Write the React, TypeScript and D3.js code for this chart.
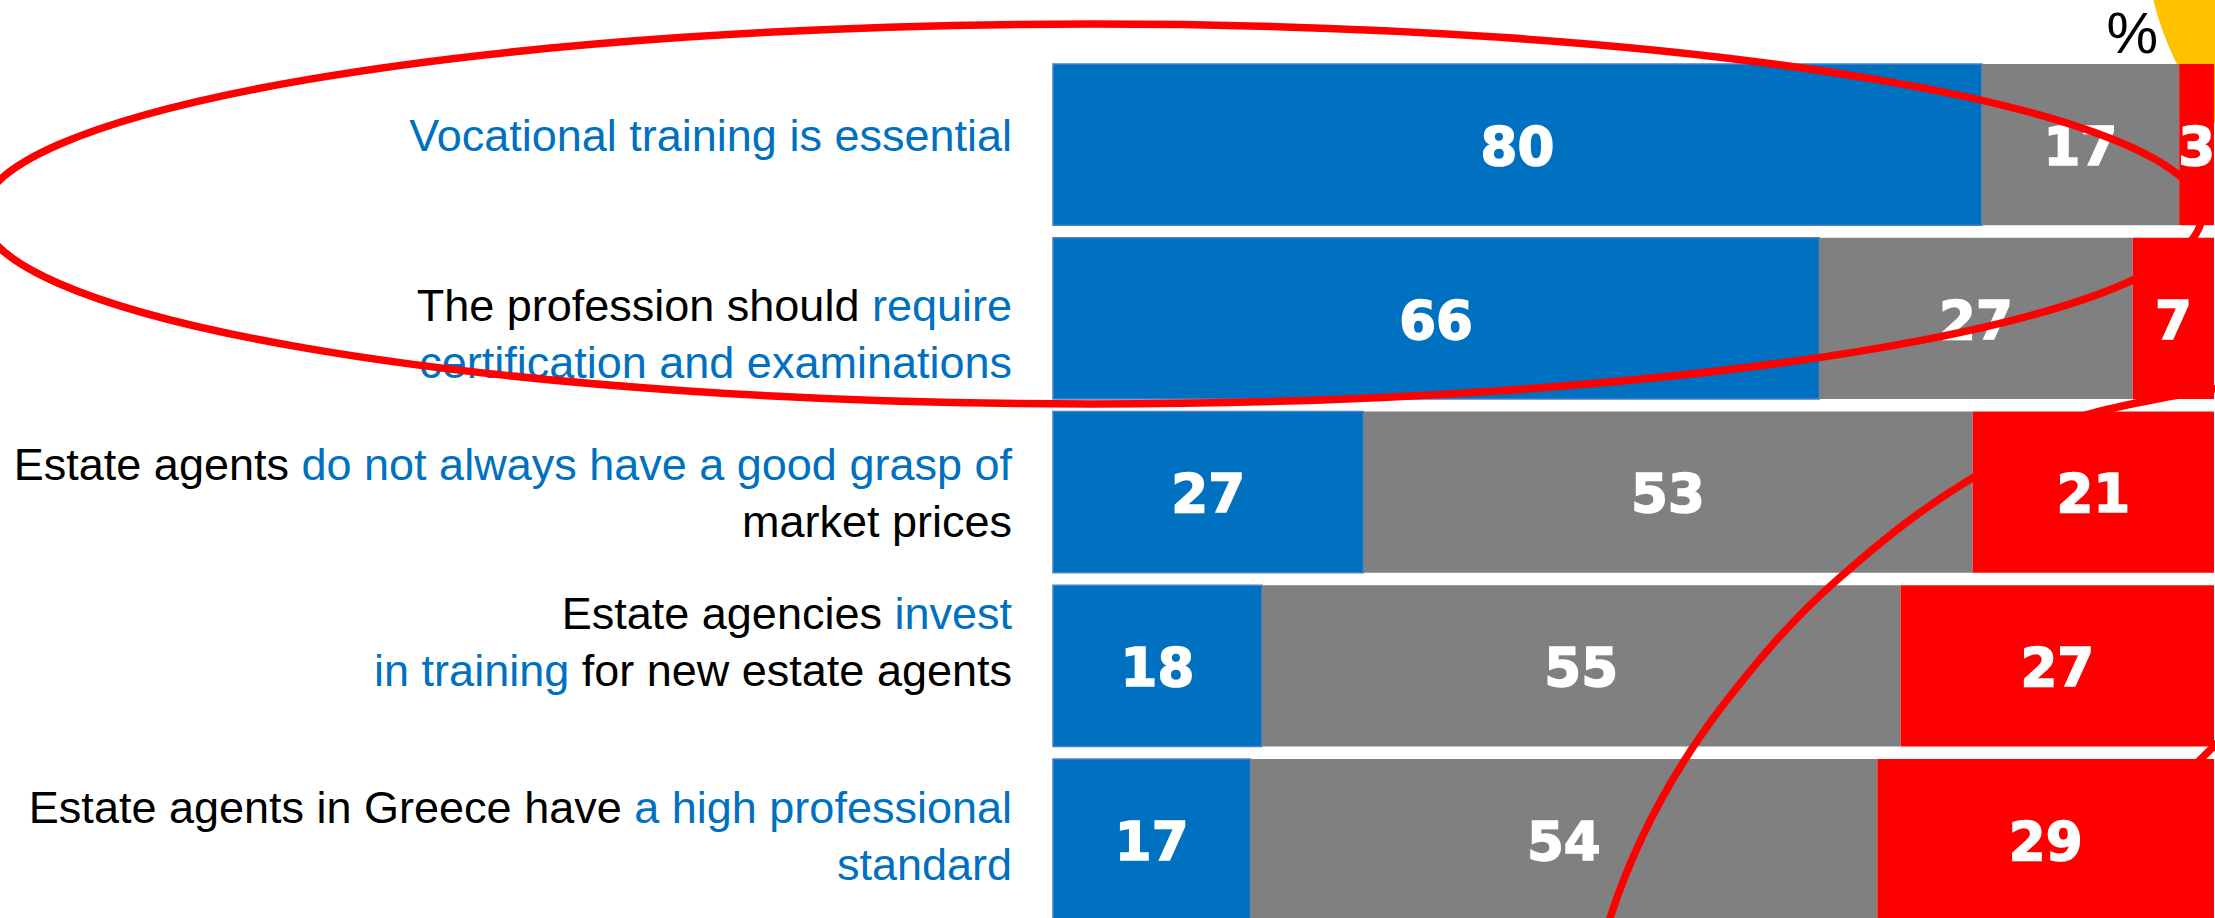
import * as d3 from "d3";

// survey answers, in %, top row first
const statements = ["vocational", "certification", "prices", "training", "standard"];
const agree = [80, 66, 27, 18, 17];
const neutral = [17, 27, 53, 55, 54];
const disagree = [3, 7, 21, 27, 29];
const seriesKeys = ["agree", "neutral", "disagree"];

// label text, line by line; true = highlighted in blue
const labelLines: [string, boolean][][][] = [
	[[["Vocational training is essential", true]]],
	[
		[["The profession should ", false], ["require", true]],
		[["certification and examinations", true]],
	],
	[
		[["Estate agents ", false], ["do not always have a good grasp of", true]],
		[["market prices", false]],
	],
	[
		[["Estate agencies ", false], ["invest", true]],
		[["in training", true], [" for new estate agents", false]],
	],
	[
		[["Estate agents in Greece have ", false], ["a high professional", true]],
		[["standard", true]],
	],
];

const W = 2215;
const H = 918;
const BLUE = "#0070C0";
const colors: Record<string, string> = { agree: BLUE, neutral: "#808080", disagree: "#FF0000" };
const labelShift = [-10, 15, 0, -25, -5];

function App() {
	const rows = statements.map((s, i) => ({
		key: s,
		agree: agree[i],
		neutral: neutral[i],
		disagree: disagree[i],
	}));

	const stacked = d3
		.stack<any>()
		.keys(seriesKeys)
		.offset(d3.stackOffsetExpand)(rows);

	const y = d3.scaleBand().domain(statements).range([64, 920.25]).paddingInner(0.072).paddingOuter(0);
	const x = d3.scaleLinear().domain([0, 1]).range([1053, 2214]);

	const lineGap = 57;
	const labelRight = 1012;

	// hand-drawn annotation
	const tail = d3.line().curve(d3.curveMonotoneY)([
		[2262, 381],
		[2157, 399],
		[2097, 412],
		[1974, 477],
		[1837, 580],
		[1727, 700],
		[1610, 918],
		[1598, 960],
	] as [number, number][]) as string;
	const tail2 = d3.line()([
		[2240, 720],
		[2160, 800],
	] as [number, number][]) as string;

	return (
		<div style={{ position: "fixed", left: 0, top: 0 }}>
			<svg width={W} height={H} style={{ display: "block", background: "#fff" }}>
				<circle cx={2459} cy={-76} r={315} fill="#FFC000" />
				<text
					x={2158}
					y={53}
					textAnchor="end"
					fontFamily="'Liberation Sans', Arial, sans-serif"
					fontSize={58}
					fill="#000"
				>
					%
				</text>

				{stacked.map((series) => (
					<g key={series.key}>
						{series.map((d, i) => (
							<rect
								key={i}
								x={x(d[0])}
								y={y(d.data.key)}
								width={x(d[1]) - x(d[0])}
								height={y.bandwidth()}
								fill={colors[series.key]}
								stroke={series.key === "agree" ? "#4A7EC9" : "none"}
								strokeWidth={1.5}
							/>
						))}
					</g>
				))}

				{stacked.map((series) => (
					<g key={"t" + series.key}>
						{series.map((d, i) => (
							<text
								key={i}
								x={(x(d[0]) + x(d[1])) / 2}
								y={(y(d.data.key) as number) + y.bandwidth() / 2}
								dy="0.38em"
								textAnchor="middle"
								fontFamily="'DejaVu Sans', sans-serif"
								fontWeight="bold"
								fontSize={53}
								fill="#fff"
								stroke="#fff"
								strokeWidth={1.6}
							>
								{d.data[series.key]}
							</text>
						))}
					</g>
				))}

				{labelLines.map((lines, i) => {
					const cy = (y(statements[i]) as number) + y.bandwidth() / 2 + labelShift[i];
					const first = cy + 16.5 - ((lines.length - 1) * lineGap) / 2;
					return lines.map((segs, j) => (
						<text
							key={i + "-" + j}
							x={labelRight}
							y={first + j * lineGap}
							textAnchor="end"
							fontFamily="'Liberation Sans', Arial, sans-serif"
							fontSize={45}
						>
							{segs.map(([t, hi], k) => (
								<tspan key={k} fill={hi ? BLUE : "#000"} xmlSpace="preserve">
									{t}
								</tspan>
							))}
						</text>
					));
				})}

				<g fill="none" stroke="#FF0000" strokeWidth={7.5}>
					<ellipse cx={1092} cy={214} rx={1110} ry={190} />
					<path d={tail} />
					<path d={tail2} />
				</g>
			</svg>
		</div>
	);
}

export default App;
